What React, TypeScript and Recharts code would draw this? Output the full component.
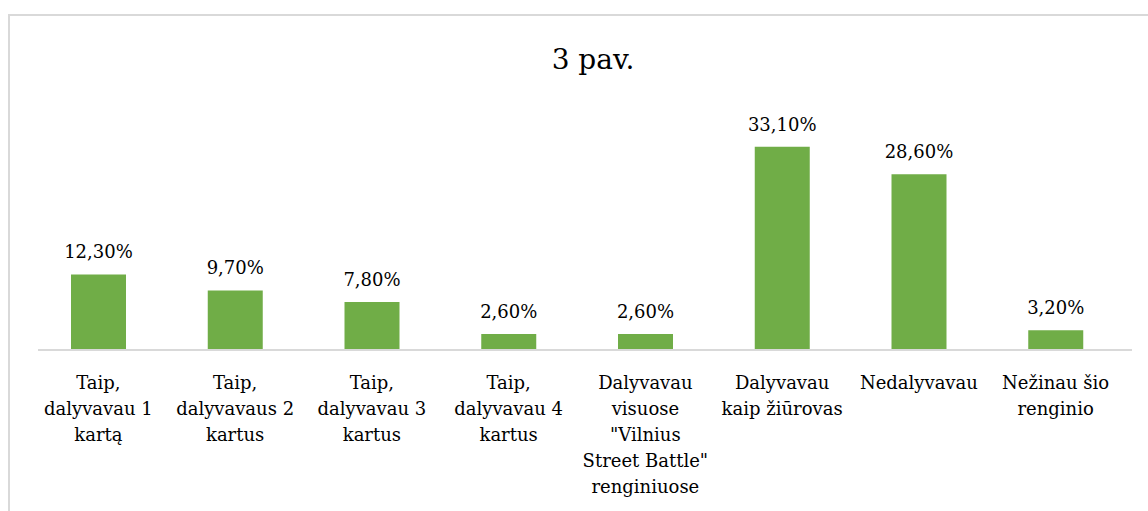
import { BarChart, Bar, XAxis, YAxis, LabelList } from 'recharts';

const categories: string[][] = [
    ['Taip,', 'dalyvavau 1', 'kartą'],
    ['Taip,', 'dalyvavaus 2', 'kartus'],
    ['Taip,', 'dalyvavau 3', 'kartus'],
    ['Taip,', 'dalyvavau 4', 'kartus'],
    ['Dalyvavau', 'visuose', '"Vilnius', 'Street Battle"', 'renginiuose'],
    ['Dalyvavau', 'kaip žiūrovas'],
    ['Nedalyvavau'],
    ['Nežinau šio', 'renginio'],
];
const shares: number[] = [12.3, 9.7, 7.8, 2.6, 2.6, 33.1, 28.6, 3.2];
const shareLabels: string[] = ['12,30%', '9,70%', '7,80%', '2,60%', '2,60%', '33,10%', '28,60%', '3,20%'];

const data = categories.map((lines, i) => ({
    name: String(i),
    value: shares[i],
    label: shareLabels[i],
}));

const green = '#70AD47';
// Liberation Serif falls back to sans here, DejaVu Serif is the serif that renders
const font = "'DejaVu Serif', serif";

const CategoryTick = (props: any) => {
    const { x, y, payload } = props;
    const lines = categories[Number(payload.value)];
    return (
        <text x={x} y={y} textAnchor="middle" fontFamily={font} fontSize={18} fill="#000">
            {lines.map((l, i) => (
                <tspan key={i} x={x} dy={i === 0 ? 31 : 26}>{l}</tspan>
            ))}
        </text>
    );
};

export default function App() {
    return (
        <div style={{ position: 'absolute', left: 0, top: 0, width: 1148, height: 511, overflow: 'hidden', background: '#fff' }}>
            <div style={{ position: 'absolute', left: 8, top: 14, width: 1200, height: 600, border: '2px solid #d9d9d9', boxSizing: 'border-box' }} />
            <div style={{ position: 'absolute', left: 0, top: 40, width: 1186, textAlign: 'center', fontFamily: font, fontSize: 28, lineHeight: '40px' }}>3 pav.</div>
            <div style={{ position: 'absolute', left: 0, top: 0 }}>
                <BarChart width={1148} height={511} data={data} margin={{ top: 135, right: 16, bottom: 41, left: 38 }} barCategoryGap={0}>
                    <XAxis dataKey="name" height={120} interval={0} padding={{ left: -8, right: 8 }} tickLine={false} axisLine={{ stroke: '#d9d9d9', strokeWidth: 2 }} tick={<CategoryTick />} />
                    <YAxis hide domain={[0, 35]} />
                    <Bar dataKey="value" fill={green} barSize={55} isAnimationActive={false}>
                        <LabelList dataKey="label" position="top" offset={16} fontFamily={font} fontSize={18} fill="#000" />
                    </Bar>
                </BarChart>
            </div>
        </div>
    );
}
